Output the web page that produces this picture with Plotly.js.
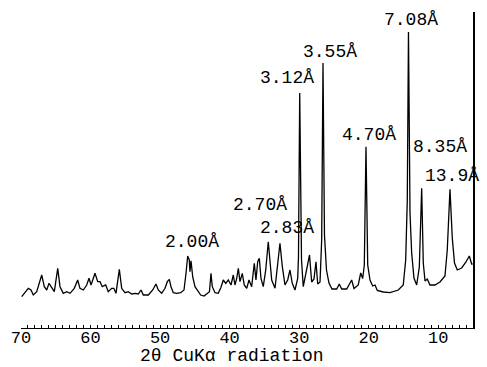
<!DOCTYPE html>
<html>
<head>
<meta charset="utf-8">
<script src="https://cdn.plot.ly/plotly-3.0.1.min.js"></script>
<style>html,body{margin:0;padding:0;background:#fff;}#chart{width:487px;height:367px;}</style>
</head>
<body>
<div id="chart"></div>
<script>
const twoTheta = [69.9,68.95,68.56,68.23,67.74,67.02,66.65,66.30,65.97,65.59,65.21,64.72,64.39,63.92,63.43,62.95,62.34,61.85,61.52,61.04,60.55,60.22,59.93,59.60,59.36,58.97,58.64,58.31,57.82,57.45,56.96,56.65,56.34,55.86,55.52,55.04,54.57,54.08,53.61,53.13,52.74,52.41,51.69,51.06,50.59,50.26,49.77,49.29,48.96,48.67,48.43,48.10,47.61,47.03,46.56,46.27,46.03,45.80,45.70,45.55,45.31,44.98,44.65,44.16,43.68,43.21,42.90,42.68,42.49,42.10,41.63,41.24,40.91,40.56,40.19,39.80,39.47,39.23,38.98,38.75,38.51,38.18,37.89,37.54,37.21,36.83,36.45,36.21,35.96,35.73,35.49,35.16,34.81,34.44,34.19,33.95,33.47,33.09,32.76,32.42,32.04,31.65,31.32,30.99,30.60,30.21,30.10,29.92,29.66,29.41,28.92,28.51,28.20,27.87,27.58,27.33,27.00,26.76,26.57,26.36,26.07,25.71,25.28,24.60,24.23,23.88,23.16,22.45,22.11,21.50,21.15,20.86,20.63,20.39,20.14,19.81,19.43,19.09,18.76,17.90,16.94,15.74,15.03,14.68,14.45,14.28,14.06,13.82,13.49,13.10,12.72,12.38,12.15,11.90,11.57,11.19,10.47,9.75,9.03,8.70,8.31,7.98,7.66,7.26,6.63,6.01,5.53,5.19,5.05];
const intensity = [31.3,39.7,38,33,36.3,53,41.3,38,44.7,40,36.3,59.7,41.3,34.7,36.3,34.7,39.7,48,39.7,38,43,49.7,43,49.7,54.7,46.3,46.3,41.3,43,36.3,39.7,39.7,34.7,58.7,39.7,35.3,36.3,34,34.7,34,38,33,33,38,44,38,34.7,39.7,46.3,48.7,41.3,35.3,34.7,35.3,38,54.7,72,68,56.3,67.3,51.3,41.3,38,33,32,34.7,36.3,54.7,41.3,35.3,34.7,40.7,48,44.7,48,43,53,43,49.7,59.7,46.3,54.7,43,39.7,48,41.3,64.7,48,66.3,69.7,49.7,41.3,58,86.3,61.3,48,39.7,61.3,84.7,61.3,43,48,58,44.7,38,49.7,70,235,68,41.3,60,73,46,49,66.3,44,46,88,265,93,58,45,39,39,44,39,39,48,39.5,43,55,49.5,63,181.3,63,48,42,43,37.5,36,35.3,38,43,68,128,296,115,75,50,43,61,139.7,65,47,49,43,43,46,52,78,138.7,90,65,58,60,66,72,64,64];

const peakLabels = ["7.08Å","3.55Å","3.12Å","4.70Å","8.35Å","13.9Å","2.70Å","2.83Å","2.00Å"];
const labelTheta = [13.92,25.57,31.75,19.96,9.75,8.02,35.63,31.75,45.41];
const labelY = [308,276,250,193,181,152,123,100,86];

const tickVals = [70,60,50,40,30,20,10];
const tickText = ["70","60","50","40","30","20","10"];
const axisTitle = "2θ CuKα radiation";

const mono = "Liberation Mono, Courier New, monospace";

const annotations = peakLabels.map((t,i)=>({
  text: t, x: labelTheta[i], y: labelY[i], xref:'x', yref:'y',
  showarrow:false, xanchor:'center', yanchor:'middle',
  font:{family:mono, size:18, color:'#000'}
}));
annotations.push({
  text: axisTitle, x: 39.7, y: -0.09, xref:'x', yref:'paper',
  showarrow:false, xanchor:'center', yanchor:'middle',
  font:{family:mono, size:18, color:'#000'}
});

Plotly.newPlot('chart', [{
  x: twoTheta, y: intensity, type:'scatter', mode:'lines',
  line:{color:'#000', width:1.3}, hoverinfo:'skip'
}], {
  width:487, height:367,
  margin:{l:21, r:14, t:12, b:39, pad:0},
  paper_bgcolor:'#fff', plot_bgcolor:'#fff',
  showlegend:false,
  xaxis:{
    range:[70,5], showgrid:false, zeroline:false,
    showline:true, linecolor:'#000', linewidth:1.3,
    tickmode:'array', tickvals:tickVals, ticktext:tickText,
    ticks:'inside', ticklen:3, tickwidth:1, tickcolor:'#000',
    ticklabelstandoff:-7,
    minor:{dtick:1, ticks:'inside', ticklen:3, tickwidth:1, tickcolor:'#000', showgrid:false},
    tickfont:{family:mono, size:17, color:'#000'}
  },
  yaxis:{
    range:[0,316], side:'right', showgrid:false, zeroline:false,
    showline:true, linecolor:'#000', linewidth:1.5,
    showticklabels:false, ticks:''
  },
  annotations: annotations
}, {staticPlot:true, displayModeBar:false});
</script>
</body>
</html>
